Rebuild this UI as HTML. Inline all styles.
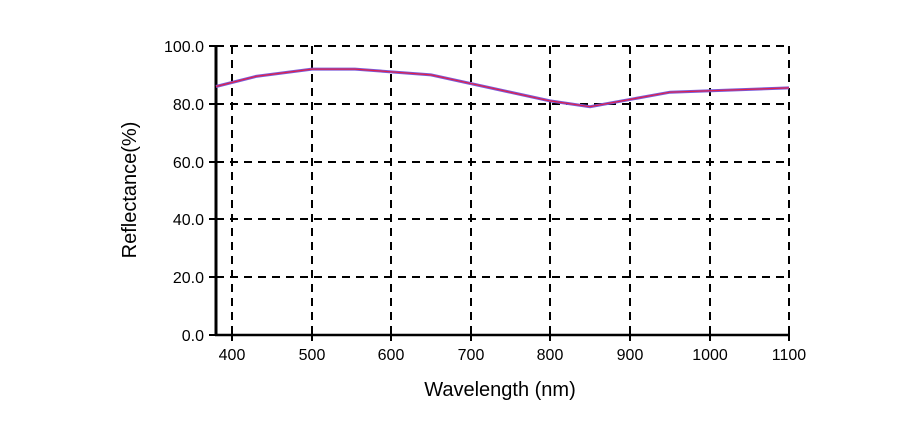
<!DOCTYPE html>
<html><head><style>body{margin:0;background:#fff}</style></head><body>
<svg width="924" height="440" xmlns="http://www.w3.org/2000/svg" font-family="Liberation Sans, Arial, sans-serif">
<g stroke="#000" stroke-width="2" stroke-dasharray="8,6" fill="none">
<line x1="216" y1="46" x2="789" y2="46"/>
<line x1="216" y1="104" x2="789" y2="104"/>
<line x1="216" y1="162" x2="789" y2="162"/>
<line x1="216" y1="219" x2="789" y2="219"/>
<line x1="216" y1="277" x2="789" y2="277"/>
<line x1="232" y1="46" x2="232" y2="335"/>
<line x1="312" y1="46" x2="312" y2="335"/>
<line x1="391" y1="46" x2="391" y2="335"/>
<line x1="471" y1="46" x2="471" y2="335"/>
<line x1="550" y1="46" x2="550" y2="335"/>
<line x1="630" y1="46" x2="630" y2="335"/>
<line x1="710" y1="46" x2="710" y2="335"/>
<line x1="789" y1="46" x2="789" y2="335"/>
</g>
<line x1="216" y1="45" x2="216" y2="336" stroke="#000" stroke-width="3"/>
<line x1="215" y1="335" x2="790" y2="335" stroke="#000" stroke-width="2.5"/>
<g stroke="#000" stroke-width="2">
<line x1="209" y1="46" x2="216" y2="46"/><line x1="209" y1="104" x2="216" y2="104"/><line x1="209" y1="162" x2="216" y2="162"/><line x1="209" y1="219" x2="216" y2="219"/><line x1="209" y1="277" x2="216" y2="277"/><line x1="209" y1="335" x2="216" y2="335"/>
<line x1="232" y1="335" x2="232" y2="341"/><line x1="312" y1="335" x2="312" y2="341"/><line x1="391" y1="335" x2="391" y2="341"/><line x1="471" y1="335" x2="471" y2="341"/><line x1="550" y1="335" x2="550" y2="341"/><line x1="630" y1="335" x2="630" y2="341"/><line x1="710" y1="335" x2="710" y2="341"/><line x1="789" y1="335" x2="789" y2="341"/>
</g>
<polyline fill="none" stroke="#7a5ad8" stroke-width="3" points="216,86.5 256,76.4 312,69.1 355,69.1 431,74.9 471,83.6 550,100.9 590,106.7 670,92.2 789,87.9"/>
<polyline fill="none" stroke="#e0204a" stroke-width="1.2" points="216,86.5 256,76.4 312,69.1 355,69.1 431,74.9 471,83.6 550,100.9 590,106.7 670,92.2 789,87.9"/>
<g font-size="16" text-anchor="end" fill="#000">
<text x="204" y="52">100.0</text><text x="204" y="110">80.0</text><text x="204" y="168">60.0</text><text x="204" y="225">40.0</text><text x="204" y="283">20.0</text><text x="204" y="341">0.0</text>
</g>
<g font-size="16" text-anchor="middle" fill="#000">
<text x="232" y="360">400</text><text x="312" y="360">500</text><text x="391" y="360">600</text><text x="471" y="360">700</text><text x="550" y="360">800</text><text x="630" y="360">900</text><text x="710" y="360">1000</text><text x="789" y="360">1100</text>
</g>
<text x="500" y="396" font-size="20" text-anchor="middle">Wavelength (nm)</text>
<text transform="translate(136,190) rotate(-90)" font-size="20" text-anchor="middle">Reflectance(%)</text>
</svg>
</body></html>
